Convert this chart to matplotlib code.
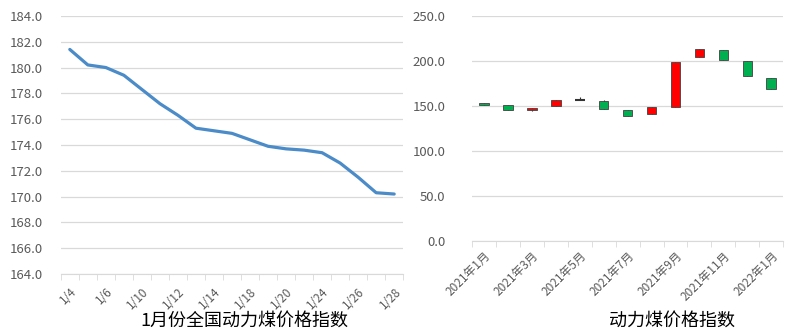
import matplotlib.pyplot as plt
import numpy as np

plt.rcParams['font.family'] = ['Noto Sans CJK SC', 'DejaVu Sans']

# 左图：1月每日价格指数
days = ['1/4', '1/5', '1/6', '1/7', '1/10', '1/11', '1/12', '1/13', '1/14', '1/17',
        '1/18', '1/19', '1/20', '1/21', '1/24', '1/25', '1/26', '1/27', '1/28']
daily_index = [181.4, 180.2, 180.0, 179.4, 178.3, 177.2, 176.3, 175.3, 175.1, 174.9,
               174.4, 173.9, 173.7, 173.6, 173.4, 172.6, 171.5, 170.3, 170.2]

# 右图：月度K线
months = ['2021年1月', '2021年2月', '2021年3月', '2021年4月', '2021年5月', '2021年6月',
          '2021年7月', '2021年8月', '2021年9月', '2021年10月', '2021年11月', '2021年12月',
          '2022年1月']
m_open = [153.0, 150.5, 146.0, 149.5, 156.5, 156.0, 145.0, 141.0, 149.0, 204.0, 212.0, 199.5, 181.0]
m_close = [151.0, 146.0, 148.0, 157.0, 156.5, 147.0, 138.5, 149.0, 199.0, 213.0, 201.0, 183.5, 169.0]
m_high = [153.0, 150.5, 148.0, 157.0, 159.5, 157.0, 145.0, 149.0, 199.0, 213.0, 212.0, 199.5, 181.0]
m_low = [151.0, 146.0, 144.7, 149.5, 156.5, 147.0, 138.5, 141.0, 149.0, 204.0, 201.0, 183.5, 169.0]

captions = ['1月份全国动力煤价格指数', '动力煤价格指数']

grid_c = '#d9d9d9'
text_c = '#595959'

fig = plt.figure(figsize=(8.0, 3.31), dpi=100)

# ---- 左图
ax1 = fig.add_axes([0.076, 0.172, 0.428, 0.780])
x = np.arange(len(days))
ax1.plot(x, daily_index, color='#4a8bc8', lw=2.3, solid_capstyle='round')
ax1.set_ylim(164, 184)
ax1.set_yticks(np.arange(164, 185, 2))
ax1.set_yticklabels(['%.1f' % v for v in np.arange(164, 185, 2)])
ax1.set_xlim(-0.5, len(days) - 0.5)
ax1.set_xticks(x[::2])
ax1.set_xticklabels(days[::2], rotation=45, ha='right', va='top', rotation_mode='anchor')
ax1.set_xticks(np.arange(-0.5, len(days)), minor=True)
ax1.tick_params(axis='x', which='major', length=0, pad=8, labelsize=8.5, labelcolor=text_c)
ax1.tick_params(axis='x', which='minor', length=4, color=grid_c)
ax1.tick_params(axis='y', length=0, pad=13, labelsize=9.5, labelcolor=text_c)
ax1.grid(axis='y', color=grid_c, lw=0.9)
ax1.set_axisbelow(True)
for s in ['top', 'right', 'left']:
    ax1.spines[s].set_visible(False)
ax1.spines['bottom'].set_color(grid_c)

# ---- 右图
ax2 = fig.add_axes([0.590, 0.272, 0.389, 0.680])
xm = np.arange(len(months))
for i in xm:
    o, c = m_open[i], m_close[i]
    if c > o:
        col = '#ff0000'
    elif c < o:
        col = '#00b050'
    else:
        col = '#333333'
    ax2.vlines(i, m_low[i], m_high[i], color='#333333', lw=0.8, zorder=2)
    h = abs(c - o)
    if h == 0:
        ax2.hlines(o, i - 0.2, i + 0.2, color='#333333', lw=1.5, zorder=3)
    else:
        ax2.bar(i, h, bottom=min(o, c), width=0.4, color=col,
                edgecolor='#404040', lw=0.6, zorder=3)
ax2.set_ylim(0, 250)
ax2.set_yticks(np.arange(0, 251, 50))
ax2.set_yticklabels(['%.1f' % v for v in np.arange(0, 251, 50)])
ax2.set_xlim(-0.5, len(months) - 0.5)
ax2.set_xticks(xm[::2])
ax2.set_xticklabels(months[::2], rotation=45, ha='right', va='top', rotation_mode='anchor')
ax2.set_xticks(np.arange(-0.5, len(months)), minor=True)
ax2.tick_params(axis='x', which='major', length=0, pad=6, labelsize=8.5, labelcolor=text_c)
ax2.tick_params(axis='x', which='minor', length=4, color=grid_c)
ax2.tick_params(axis='y', length=0, pad=19, labelsize=9.5, labelcolor=text_c)
ax2.grid(axis='y', color=grid_c, lw=0.9)
ax2.set_axisbelow(True)
for s in ['top', 'right', 'left']:
    ax2.spines[s].set_visible(False)
ax2.spines['bottom'].set_color(grid_c)

# 底部标题
fig.text(0.305, 0.004, captions[0], fontsize=13, va='bottom', ha='center', color='black')
fig.text(0.84, 0.004, captions[1], fontsize=13, va='bottom', ha='center', color='black')

fig.savefig('out.png', dpi=100)
